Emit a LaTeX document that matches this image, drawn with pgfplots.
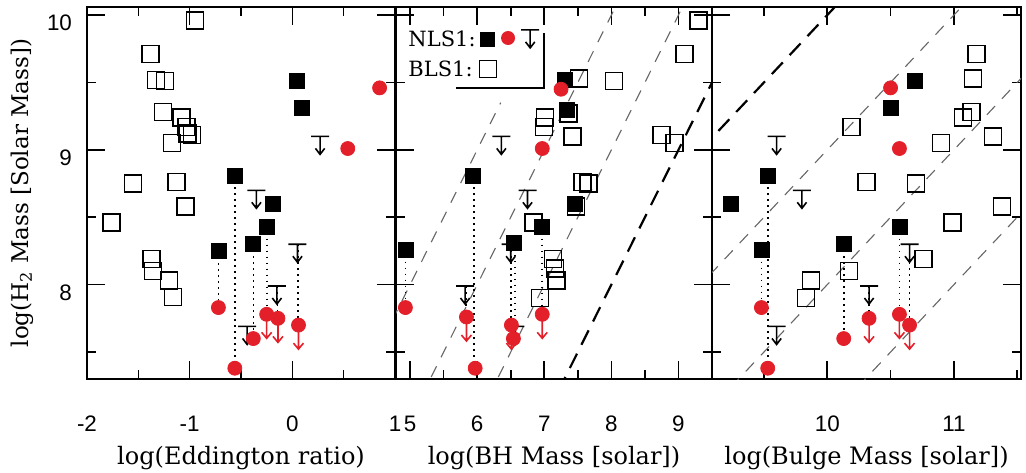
\documentclass[border=0pt]{standalone}
\usepackage{pgfplots}
\pgfplotsset{compat=1.18}
\usepackage{fontspec}
\setmainfont{DejaVu Serif}
\newfontfamily\ticksf{Liberation Sans}
\definecolor{nlsred}{HTML}{E3202A}

% upper limit: bar with arrow pointing down
\pgfdeclareplotmark{ulim}{%
  \pgfpathmoveto{\pgfqpoint{-4.5pt}{0pt}}\pgfpathlineto{\pgfqpoint{4.5pt}{0pt}}%
  \pgfpathmoveto{\pgfqpoint{0pt}{0pt}}\pgfpathlineto{\pgfqpoint{0pt}{-9pt}}%
  \pgfpathmoveto{\pgfqpoint{-2.3pt}{-6pt}}\pgfpathlineto{\pgfqpoint{0pt}{-9pt}}%
  \pgfpathlineto{\pgfqpoint{2.3pt}{-6pt}}%
  \pgfusepathqstroke}
% red arrow hanging below a circle
\pgfdeclareplotmark{rarr}{%
  \pgfpathmoveto{\pgfqpoint{0pt}{0pt}}\pgfpathlineto{\pgfqpoint{0pt}{-12pt}}%
  \pgfpathmoveto{\pgfqpoint{-2.5pt}{-9pt}}\pgfpathlineto{\pgfqpoint{0pt}{-12pt}}%
  \pgfpathlineto{\pgfqpoint{2.5pt}{-9pt}}%
  \pgfusepathqstroke}

\pgfplotsset{
  panel/.style={
    scale only axis, height=186pt, anchor=south west,
    ymin=7.3, ymax=10.06,
    ytick={8,9,10}, minor ytick={7.5,8.5,9.5},
    tick align=inside,
    major tick length=9pt, minor tick length=4.5pt,
    tick style={black, line width=0.8pt},
    axis line style={line width=1pt},
    clip mode=individual,
    tick label style={font=\ticksf\fontsize{11.2}{12}\selectfont},
    xticklabel style={yshift=-15pt},
    yticklabel style={yshift=-4pt, xshift=-4pt},
    xlabel style={at={(axis description cs:0.5,-0.231)}, anchor=base,
      font=\fontsize{12}{14}\selectfont},
    ylabel style={at={(axis description cs:-0.211,0.5)}, anchor=center,
      font=\fontsize{11.5}{14}\selectfont},
  },
  bls/.style={only marks, mark=square, mark size=4.25pt, mark options={black, line width=0.7pt}},
  nlsq/.style={only marks, mark=square*, mark size=3.75pt, mark options={black}},
  nlsc/.style={only marks, mark=*, mark size=3.5pt, mark options={draw=nlsred, fill=nlsred}},
  ulim/.style={only marks, mark=ulim, mark options={black, line width=0.8pt}},
  rarr/.style={only marks, mark=rarr, mark options={nlsred, line width=0.8pt}},
  link/.style={black, line width=0.8pt, dash pattern=on 0.8pt off 2.2pt, no marks},
  ratio/.style={black!60, line width=0.55pt, dash pattern=on 6pt off 5pt, no marks},
  unity/.style={black, line width=1.1pt, dash pattern=on 8pt off 5pt, no marks},
}

\begin{document}
\begin{tikzpicture}

% ---------------- Eddington ratio ----------------
\begin{axis}[panel, at={(43.5pt,46.5pt)}, width=154pt,
  xmin=-2, xmax=1,
  xtick={-2,-1,0,1}, xticklabels={-2,-1,0,1}, minor xtick={-1.5,-0.5,0.5},
  yticklabels={8,9,10},
  xlabel={log(Eddington ratio)},
  ylabel={log(H\textsubscript{2} Mass [Solar Mass])},
]
\addplot[link] coordinates {(-0.72,8.25)(-0.72,7.83)};
\addplot[link] coordinates {(-0.56,8.81)(-0.56,7.38)};
\addplot[link] coordinates {(-0.38,8.30)(-0.38,7.60)};
\addplot[link] coordinates {(-0.245,8.43)(-0.245,7.78)};
\addplot[link] coordinates {(0.055,8.30)(0.055,7.70)};
\addplot[link] coordinates {(-0.145,7.99)(-0.145,7.75)};

\addplot[bls] coordinates {(-0.95,9.96)(-1.38,9.71)(-1.33,9.52)(-1.24,9.51)(-1.26,9.28)
  (-1.08,9.24)(-1.03,9.17)(-0.98,9.11)(-1.02,9.12)(-1.17,9.05)(-1.55,8.75)(-1.13,8.76)
  (-1.04,8.58)(-1.76,8.46)(-1.37,8.19)(-1.36,8.10)(-1.20,8.03)(-1.16,7.91)};
\addplot[nlsq] coordinates {(0.045,9.51)(0.09,9.31)(-0.56,8.81)(-0.19,8.60)(-0.245,8.43)
  (-0.38,8.30)(-0.72,8.25)};
\addplot[ulim] coordinates {(0.27,9.10)(-0.35,8.70)(-0.15,7.99)(-0.44,7.69)(0.05,8.30)};
\addplot[rarr] coordinates {(-0.25,7.78)(-0.14,7.75)(0.06,7.70)};
\addplot[nlsc] coordinates {(0.85,9.46)(0.54,9.01)(-0.72,7.83)(-0.56,7.38)(-0.38,7.60)
  (-0.25,7.78)(-0.14,7.75)(0.06,7.70)};
\end{axis}

% ---------------- BH mass ----------------
\begin{axis}[panel, at={(198pt,46.5pt)}, width=158pt,
  xmin=4.79, xmax=9.5,
  xtick={5,6,7,8,9}, xticklabels={5,6,7,8,9}, minor xtick={5.5,6.5,7.5,8.5},
  yticklabels={},
  xlabel={log(BH Mass [solar])},
]
\addplot[ratio] coordinates {(4,7)(6.35,9.35)};
\addplot[ratio] coordinates {(4,6)(9,11)};
\addplot[ratio] coordinates {(5,6)(10,11)};
\addplot[unity] coordinates {(6,6)(10,10)};

\addplot[link] coordinates {(4.93,8.26)(4.93,7.83)};
\addplot[link] coordinates {(5.95,8.81)(5.95,7.38)};
\addplot[link] coordinates {(6.50,8.30)(6.50,7.70)};
\addplot[link] coordinates {(6.56,8.31)(6.56,7.60)};
\addplot[link] coordinates {(6.97,8.43)(6.97,7.78)};
\addplot[link] coordinates {(5.83,7.99)(5.83,7.76)};

\addplot[bls] coordinates {(9.30,9.96)(9.09,9.71)(8.04,9.51)(7.52,9.53)(7.01,9.24)
  (7.00,9.17)(7.42,9.10)(8.75,9.11)(8.94,9.05)(7.57,8.76)(7.66,8.75)(6.84,8.46)
  (7.13,8.19)(7.16,8.12)(7.18,8.03)(6.94,7.90)(7.36,9.27)(7.47,8.58)};
\addplot[nlsq] coordinates {(7.31,9.52)(7.34,9.30)(5.94,8.81)(7.45,8.60)(6.97,8.43)
  (6.55,8.31)(4.93,8.26)};
\addplot[ulim] coordinates {(6.36,9.10)(6.75,8.70)(5.82,7.99)(6.57,7.69)(6.50,8.30)};
\addplot[rarr] coordinates {(5.84,7.76)(6.51,7.70)(6.97,7.78)};
\addplot[nlsc] coordinates {(7.25,9.45)(6.97,9.01)(4.93,7.83)(5.84,7.76)(5.97,7.38)
  (6.51,7.70)(6.54,7.60)(6.97,7.78)};

% legend
\draw[line width=0.8pt] (axis cs:5.69,9.46) -- (axis cs:7.00,9.46) -- (axis cs:7.00,9.87);
\node[anchor=base west, inner sep=0pt, font=\fontsize{10.5}{13}\selectfont]
  at (axis cs:4.97,9.77) {NLS1:};
\node[anchor=base west, inner sep=0pt, font=\fontsize{10.5}{13}\selectfont]
  at (axis cs:4.97,9.545) {BLS1:};
\fill (axis cs:6.16,9.82) ++(-3.75pt,-3.75pt) rectangle ++(7.5pt,7.5pt);
\fill[nlsred] (axis cs:6.46,9.83) circle[radius=3.5pt];
\draw[line width=0.8pt] (axis cs:6.79,9.89) ++(-4.5pt,0pt) -- ++(9pt,0pt)
  ++(-4.5pt,0pt) -- ++(0pt,-9pt) ++(-2.3pt,3pt) -- ++(2.3pt,-3pt) -- ++(2.3pt,3pt);
\draw[line width=0.7pt] (axis cs:6.16,9.60) ++(-4.25pt,-4.25pt) rectangle ++(8.5pt,8.5pt);
\end{axis}

% ---------------- Bulge mass ----------------
\begin{axis}[panel, at={(356pt,46.5pt)}, width=154.5pt,
  xmin=9.09, xmax=11.53,
  xtick={10,11}, xticklabels={10,11}, minor xtick={9.5,10.5,11.5},
  yticklabels={},
  xlabel={log(Bulge Mass [solar])},
]
\addplot[ratio] coordinates {(8,7)(12,11)};
\addplot[ratio] coordinates {(9,7)(12,10)};
\addplot[ratio] coordinates {(10,7)(12,9)};
\addplot[unity] coordinates {(9,9)(11,11)};

\addplot[link] coordinates {(9.48,8.26)(9.48,7.83)};
\addplot[link] coordinates {(9.53,8.81)(9.53,7.38)};
\addplot[link] coordinates {(10.13,8.30)(10.13,7.60)};
\addplot[link] coordinates {(10.57,8.43)(10.57,7.78)};
\addplot[link] coordinates {(10.65,8.30)(10.65,7.70)};
\addplot[link] coordinates {(10.33,7.99)(10.33,7.75)};

\addplot[bls] coordinates {(11.18,9.71)(11.15,9.53)(11.14,9.28)(11.07,9.24)(10.19,9.17)
  (10.90,9.05)(11.31,9.10)(10.31,8.76)(10.70,8.75)(11.38,8.58)(10.99,8.46)(10.76,8.19)
  (9.87,8.03)(9.83,7.90)(10.17,8.10)};
\addplot[nlsq] coordinates {(10.69,9.51)(10.50,9.31)(9.53,8.81)(9.24,8.60)(10.57,8.43)
  (10.13,8.30)(9.48,8.26)};
\addplot[ulim] coordinates {(9.60,9.10)(9.80,8.70)(10.33,7.99)(9.60,7.69)(10.65,8.30)};
\addplot[rarr] coordinates {(10.33,7.75)(10.57,7.78)(10.65,7.70)};
\addplot[nlsc] coordinates {(10.50,9.46)(10.57,9.01)(9.48,7.83)(9.53,7.38)(10.13,7.60)
  (10.33,7.75)(10.57,7.78)(10.65,7.70)};
\end{axis}

\pgfresetboundingbox
\useasboundingbox (0,0) rectangle (513pt,236pt);
\end{tikzpicture}
\end{document}
